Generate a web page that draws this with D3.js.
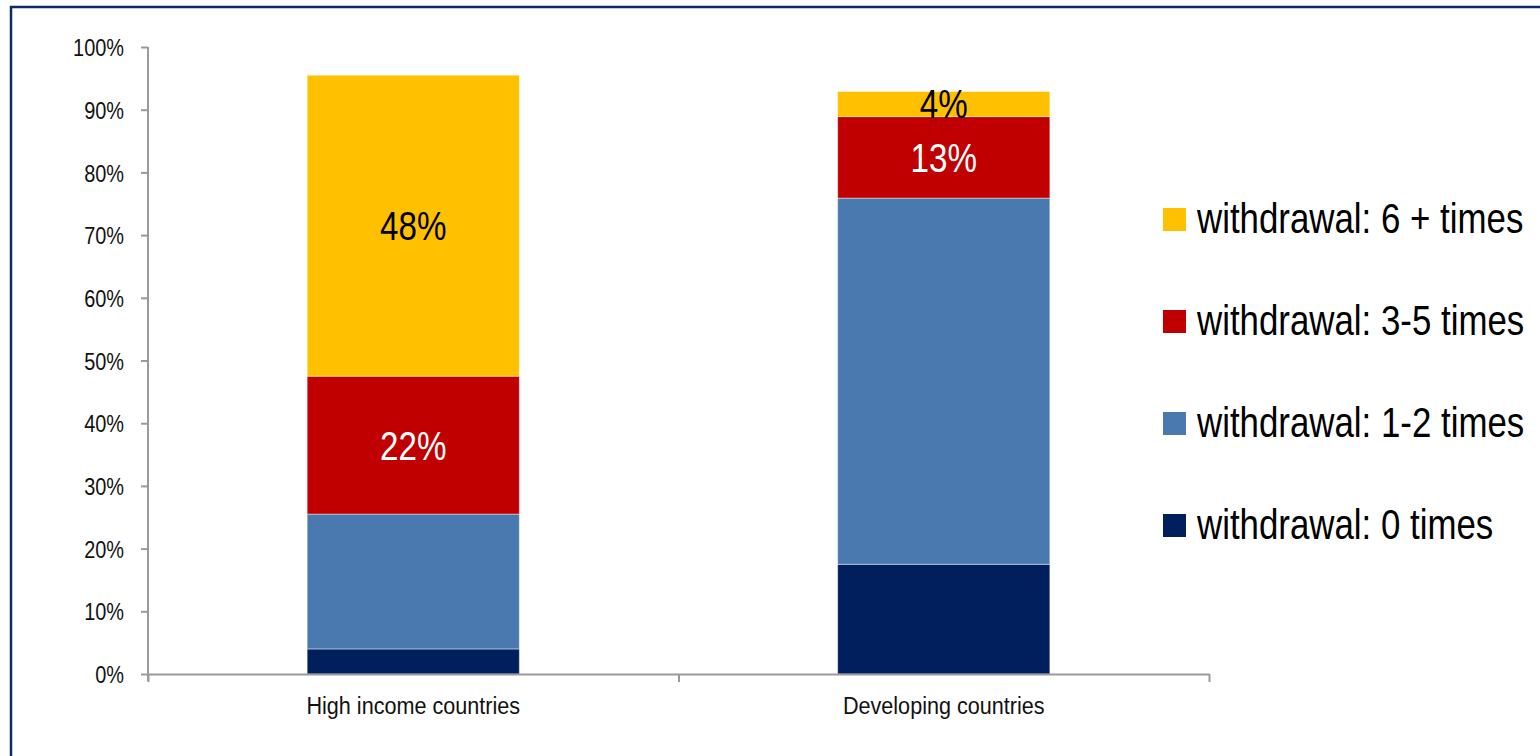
<!DOCTYPE html>
<html>
<head>
<meta charset="utf-8">
<script src="https://cdn.jsdelivr.net/npm/d3@7"></script>
<style>
  html, body { margin: 0; padding: 0; background: #fff; }
  svg { display: block; font-family: "Liberation Sans", Arial, sans-serif; }
</style>
</head>
<body>
<svg id="chart" width="1540" height="756"></svg>
<script>
// Share of account holders by number of withdrawals per month
const categories = ["High income countries", "Developing countries"];
const seriesNames = ["withdrawal: 0 times", "withdrawal: 1-2 times", "withdrawal: 3-5 times", "withdrawal: 6 + times"];
const highIncome = [4, 21.5, 22, 48];
const developing = [17.5, 58.4, 13, 4];
// which segments carry a value label (per series, per category)
const labelled = [[false, false], [false, false], [true, true], [true, true]];
const yTicks = [0, 10, 20, 30, 40, 50, 60, 70, 80, 90, 100];

const colors = ["#001f5c", "#4a79b0", "#c00000", "#ffc000"];
const labelColors = ["#fff", "#fff", "#fff", "#000"];
const sx = 0.83; // horizontal text compression

const svg = d3.select("#chart");

// frame
svg.append("rect")
  .attr("x", 11).attr("y", 7)
  .attr("width", 1600).attr("height", 800)
  .attr("fill", "none").attr("stroke", "#0c2a69").attr("stroke-width", 2.5);

const plotLeft = 148, plotRight = 1209, plotTop = 47, plotBottom = 674;

const y = d3.scaleLinear().domain([0, 100]).range([plotBottom, plotTop]);
const x = d3.scaleBand().domain(categories).range([plotLeft, plotRight])
  .paddingInner(0.6).paddingOuter(0.3);
const xEdge = d3.scaleLinear().domain([0, categories.length]).range([plotLeft, plotRight]);

const rows = categories.map((c, i) => {
  const vals = [highIncome, developing][i];
  let acc = 0;
  return vals.map((v, s) => {
    const d = { cat: c, ci: i, s, v, y0: acc, y1: acc + v };
    acc += v;
    return d;
  });
});
const segs = rows.flat();

// bars
svg.append("g").selectAll("rect").data(segs).join("rect")
  .attr("x", d => x(d.cat))
  .attr("width", x.bandwidth())
  .attr("y", d => y(d.y1))
  .attr("height", d => y(d.y0) - y(d.y1))
  .attr("fill", d => colors[d.s])
  .attr("stroke", "rgba(255,255,255,0.45)")
  .attr("stroke-width", 1);

// y axis
const yAxis = svg.append("g")
  .attr("transform", `translate(${plotLeft},0)`)
  .call(d3.axisLeft(y).tickValues(yTicks).tickFormat(d => d + "%").tickSize(7).tickSizeOuter(0));
yAxis.select(".domain").attr("stroke", "#9a9a9a").attr("stroke-width", 2)
  .attr("d", `M0,${plotTop}V${plotBottom + 7}`);
yAxis.selectAll(".tick line").attr("stroke", "#9a9a9a").attr("stroke-width", 2);
yAxis.selectAll(".tick text")
  .attr("x", 0).attr("dy", "0.36em")
  .attr("transform", `translate(-24,0) scale(${sx},1)`)
  .attr("fill", "#111").style("font-size", "24px")
  .style("font-family", "'Liberation Sans', Arial, sans-serif");

// x axis line with ticks at category boundaries
const xAxis = svg.append("g")
  .attr("transform", `translate(0,${plotBottom})`)
  .call(d3.axisBottom(xEdge).tickValues(d3.range(categories.length + 1)).tickFormat("").tickSize(8).tickSizeOuter(0));
xAxis.select(".domain").attr("stroke", "#9a9a9a").attr("stroke-width", 2);
xAxis.selectAll(".tick line").attr("stroke", "#9a9a9a").attr("stroke-width", 2);

// category labels
const xLab = svg.append("g")
  .attr("transform", `translate(0,${plotBottom})`)
  .call(d3.axisBottom(x).tickSize(0));
xLab.select(".domain").remove();
xLab.selectAll(".tick text")
  .attr("y", 0).attr("dy", 0)
  .attr("transform", `translate(0,40) scale(0.9,1)`)
  .attr("fill", "#111").style("font-size", "24px")
  .style("font-family", "'Liberation Sans', Arial, sans-serif");

// value labels
svg.append("g").selectAll("text")
  .data(segs.filter(d => labelled[d.s][d.ci]))
  .join("text")
  .attr("transform", d => `translate(${x(d.cat) + x.bandwidth() / 2},${(y(d.y0) + y(d.y1)) / 2}) scale(${sx},1)`)
  .attr("text-anchor", "middle")
  .attr("dy", "0.36em")
  .attr("fill", d => labelColors[d.s])
  .style("font-size", "40px")
  .text(d => Math.round(d.v) + "%");

// legend (top to bottom: highest series first)
const legendOrder = d3.range(seriesNames.length).reverse();
const lg = svg.append("g").selectAll("g").data(legendOrder).join("g")
  .attr("transform", (s, i) => `translate(1163,${208 + i * 102})`);
lg.append("rect").attr("width", 23).attr("height", 23).attr("fill", s => colors[s]);
lg.append("text")
  .attr("transform", `translate(34,25) scale(${sx},1)`)
  .attr("fill", "#000")
  .style("font-size", "42px")
  .text(s => seriesNames[s]);
</script>
</body>
</html>
